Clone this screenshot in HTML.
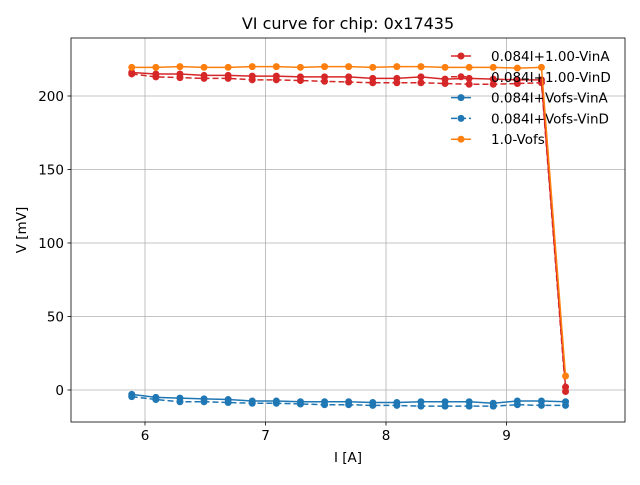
<!DOCTYPE html>
<html><head><meta charset="utf-8"><style>
body{margin:0;background:#fff;font-family:"Liberation Sans","DejaVu Sans",sans-serif}
text{font-family:"DejaVu Sans","Liberation Sans",sans-serif}
</style></head><body>
<svg id="c" width="640" height="480" xmlns="http://www.w3.org/2000/svg"></svg>
<script>
const xs=[5.89,6.09,6.29,6.49,6.69,6.89,7.09,7.29,7.49,7.69,7.89,8.09,8.29,8.49,8.69,8.89,9.09,9.29,9.49];
const redA=[216,215,215,214,214,213.5,213.5,213,213,213,212,212,213,211.5,212,211.5,211,211,2];
const redD=[215,213,212.5,212,212,211,211,210.5,210,209.5,209,209,209,208.5,208,208,208.5,209,-1];
const blueA=[-3,-5,-5.5,-6,-6.5,-7.5,-7.5,-8,-8,-8,-8.5,-8.5,-8,-8,-8,-9,-7.5,-7.5,-8];
const blueD=[-4.5,-6.5,-8,-8,-8.5,-9,-9,-9.5,-10,-10,-10.5,-10.5,-11,-11,-11,-11,-10,-10.5,-10.5];
const orange=[219.5,219.5,220,219.5,219.5,220,220,219.5,220,220,219.5,220,220,219.5,219.5,219.5,219,219.5,9.5];
const xTicks=[6,7,8,9];
const yTicks=[0,50,100,150,200];
const L=71,R=625,T=38,B=422;
const X=v=>145+(v-6)*120.5;
const Y=v=>390-v*1.47;
const svg=document.getElementById('c');
const NS='http://www.w3.org/2000/svg';
function mk(t,a,p){const e=document.createElementNS(NS,t);for(const k in a)e.setAttribute(k,a[k]);(p||svg).appendChild(e);return e;}
let t=mk('text',{x:348,y:29,'text-anchor':'middle','font-size':16,fill:'#000'});t.textContent='VI curve for chip: 0x17435';


for(const v of xTicks){const x=X(v);
 let g=mk('line',{x1:x,x2:x,y1:T,y2:B,stroke:'#b0b0b0','stroke-width':0.8});
 
 
 mk('line',{x1:x,x2:x,y1:B,y2:B+3.5,stroke:'#000','stroke-width':0.8});
 let tt=mk('text',{x:x,y:B+18,'text-anchor':'middle','font-size':13.5});tt.textContent=v;
 
 }
for(const v of yTicks){const y=Y(v);
 let g=mk('line',{x1:L,x2:R,y1:y,y2:y,stroke:'#b0b0b0','stroke-width':0.8});
 
 
 mk('line',{x1:L-3.5,x2:L,y1:y,y2:y,stroke:'#000','stroke-width':0.8});
 let tt=mk('text',{x:L-7,y:y+5,'text-anchor':'end','font-size':13.5});tt.textContent=v;
 
 }
mk('rect',{x:L,y:T,width:R-L,height:B-T,fill:'none',stroke:'#000','stroke-width':0.8});
t=mk('text',{x:348,y:462,'text-anchor':'middle','font-size':13.5});t.textContent='I [A]';


t=mk('text',{x:26,y:230,'text-anchor':'middle','font-size':13.5,transform:'rotate(-90 26 230)'});t.textContent='V [mV]';


const series=[[redA,'#d62728',null,'0.084I+1.00-VinA','series-red-vina'],[redD,'#d62728','6,3','0.084I+1.00-VinD','series-red-vind'],[blueA,'#1f77b4',null,'0.084I+Vofs-VinA','series-blue-vina'],[blueD,'#1f77b4','6,3','0.084I+Vofs-VinD','series-blue-vind'],[orange,'#ff7f0e',null,'1.0-Vofs','series-orange']];
series.forEach((s,i)=>{
 const g=mk('g',{});
 
 
 const pts=xs.map((x,j)=>X(x)+','+Y(s[0][j])).join(' ');
 const a={points:pts,fill:'none',stroke:s[1],'stroke-width':1.5};if(s[2])a['stroke-dasharray']=s[2];
 mk('polyline',a,g);
 xs.forEach((x,j)=>{const c=mk('circle',{cx:X(x),cy:Y(s[0][j]),r:3.5,fill:s[1]},g);
  
  });
 const ly=56+i*20.8;
 const lg=mk('g',{});
 
 
 const la={x1:451,x2:471,y1:ly,y2:ly,stroke:s[1],'stroke-width':1.5};if(s[2])la['stroke-dasharray']=s[2];
 mk('line',la,lg);mk('circle',{cx:461,cy:ly,r:3.5,fill:s[1]},lg);
 const lt=mk('text',{x:491,y:ly+5,'font-size':13.5},lg);lt.textContent=s[3];
});
</script>
</body></html>
